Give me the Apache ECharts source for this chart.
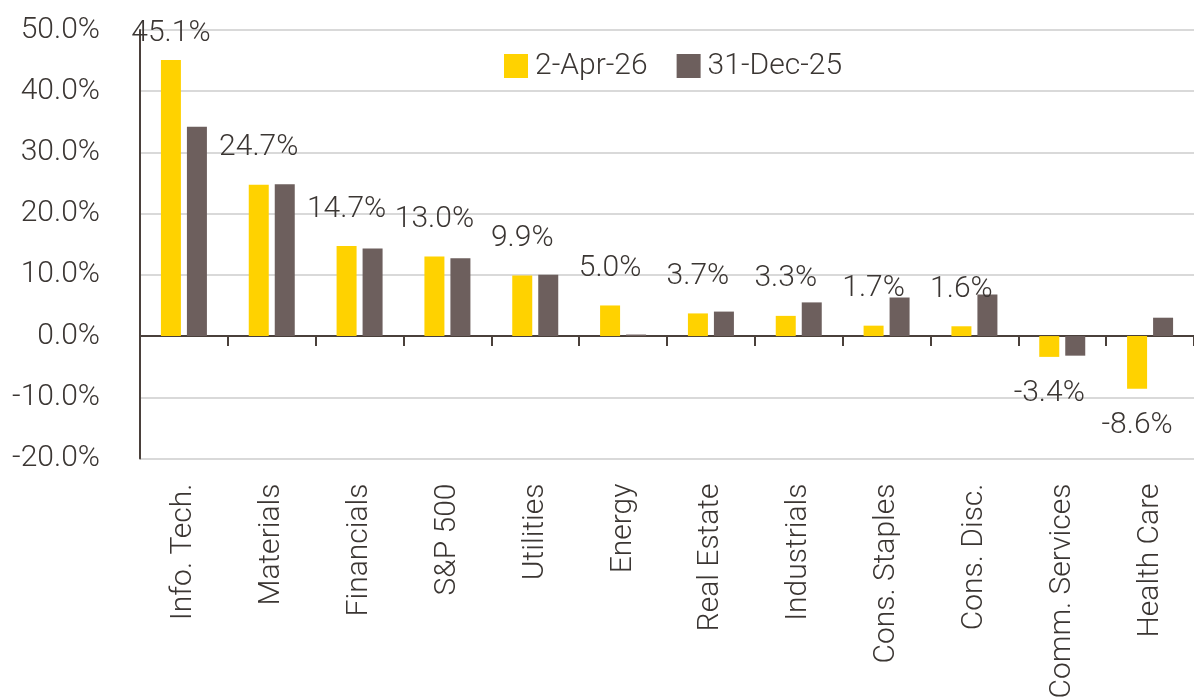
<!DOCTYPE html>
<html>
<head>
<meta charset="utf-8">
<script src="https://cdn.jsdelivr.net/npm/echarts@6/dist/echarts.min.js"></script>
<style>
html,body{margin:0;padding:0;background:#fff;}
#c{width:1194px;height:700px;}
</style>
</head>
<body>
<div id="c"></div>
<script>
const categories = ["Info. Tech.","Materials","Financials","S&P 500","Utilities","Energy","Real Estate","Industrials","Cons. Staples","Cons. Disc.","Comm. Services","Health Care"];
const seriesNames = ["2-Apr-26","31-Dec-25"];
const apr26 = [45.1,24.7,14.7,13.0,9.9,5.0,3.7,3.3,1.7,1.6,-3.4,-8.6];
const dec25 = [34.2,24.8,14.3,12.7,10.0,0.25,4.0,5.5,6.3,6.8,-3.2,3.0];
const yTicks = {min:-20,max:50,interval:10};

const FONT = "Roboto, 'Open Sans', sans-serif";
const FW = 300;
const FS = 30;
const TXT = '#3b3633';
const YELLOW = '#ffd200';
const GRAY = '#6d5f5d';

const chart = echarts.init(document.getElementById('c'), null, {renderer:'canvas'});

const aprData = apr26.map((v,i)=>({
  value:v,
  label:{
    position: v < 0 ? 'bottom' : 'top',
    distance: i === 0 ? 11 : 22
  }
}));

chart.setOption({
  animation:false,
  textStyle:{fontFamily:FONT,color:TXT,fontWeight:FW},
  grid:{left:140,right:0,top:30,bottom:241.5,containLabel:false,outerBoundsMode:'none'},
  legend:{
    top:46,
    left:499,
    itemWidth:24,
    itemHeight:24,
    itemGap:29,
    icon:'rect',
    textStyle:{fontFamily:FONT,fontWeight:FW,fontSize:FS,color:TXT,padding:[0,0,0,2]},
    data:seriesNames
  },
  xAxis:{
    type:'category',
    data:categories,
    axisLine:{onZero:true,lineStyle:{color:'#4a403b',width:2}},
    axisTick:{show:true,length:10,lineStyle:{color:'#4a403b',width:2},alignWithLabel:false},
    axisLabel:{
      rotate:90,
      interval:0,
      margin:25,
      fontFamily:FONT,
      fontWeight:FW,
      fontSize:FS,
      color:TXT
    },
    splitLine:{show:false}
  },
  yAxis:{
    type:'value',
    min:yTicks.min,
    max:yTicks.max,
    interval:yTicks.interval,
    axisLine:{show:true,lineStyle:{color:'#4a403b',width:2}},
    axisTick:{show:false},
    axisLabel:{
      margin:40,
      fontFamily:FONT,
      fontWeight:FW,
      fontSize:FS,
      color:TXT,
      formatter:v=>v.toFixed(1)+'%'
    },
    splitLine:{show:true,lineStyle:{color:'#d9d9d9',width:2}}
  },
  series:[
    {
      name:seriesNames[0],
      type:'bar',
      data:aprData,
      barWidth:20,
      barGap:'30%',
      itemStyle:{color:YELLOW},
      label:{
        show:true,
        fontFamily:FONT,
        fontWeight:FW,
        fontSize:FS,
        color:TXT,
        formatter:p=>p.value.toFixed(1)+'%'
      }
    },
    {
      name:seriesNames[1],
      type:'bar',
      data:dec25,
      barWidth:20,
      barGap:'30%',
      itemStyle:{color:GRAY}
    }
  ]
});
</script>
</body>
</html>
